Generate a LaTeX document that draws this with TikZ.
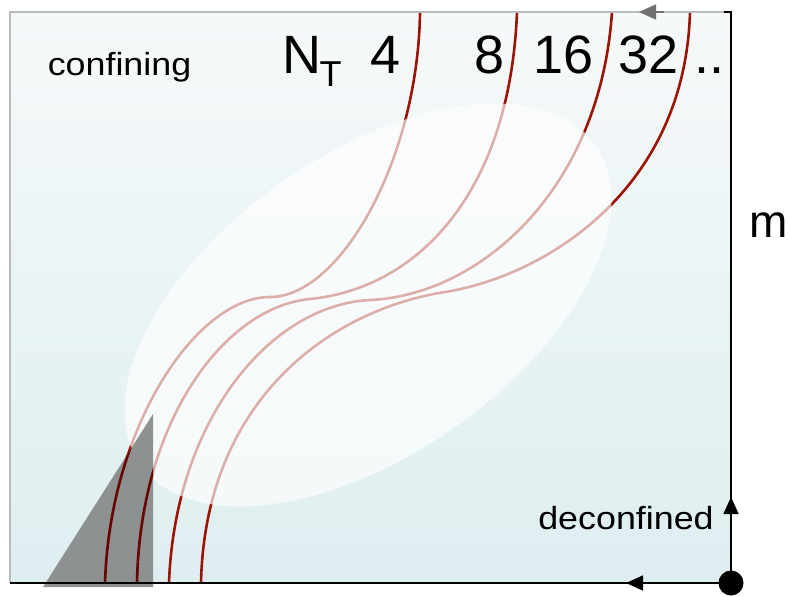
\documentclass[tikz,border=0pt]{standalone}
\usepackage{fontspec}
\setmainfont{Liberation Sans}
\newfontfamily\widefont[FakeStretch=1.12]{Liberation Sans}
\usetikzlibrary{arrows.meta}
\definecolor{curvered}{RGB}{155,20,5}
\definecolor{curvedark}{RGB}{105,5,0}
\definecolor{bgtop}{RGB}{246,249,250}
\definecolor{bgbot}{RGB}{222,238,240}
\definecolor{trigray}{RGB}{135,138,138}
\definecolor{framegray}{RGB}{185,188,188}
\def\mycurveA{(420,12) .. controls (418,160) and (340,297) .. (270,297) .. controls (197,297) and (110,425) .. (105,583)}
\def\mycurveB{(517,12) .. controls (510,190) and (420,288) .. (310,299) .. controls (225,307) and (140,420) .. (137,583)}
\def\mycurveC{(612,12) .. controls (600,190) and (480,295) .. (370,300) .. controls (270,305) and (175,420) .. (169,583)}
\def\mycurveD{(690,12) .. controls (685,190) and (545,276) .. (445,292) .. controls (330,310) and (205,400) .. (201,583)}
\begin{document}
\begin{tikzpicture}[x=1pt,y=-1pt,
  curve/.style={line width=2.6pt, draw=curvered},
  lbl/.style={inner sep=0pt, anchor=base, font=\fontsize{54}{60}\selectfont},
  word/.style={inner sep=0pt, anchor=base, font=\widefont\fontsize{32}{38}\selectfont},
  tipb/.style={-{Triangle[length=17pt,width=15pt]}}
]
\useasboundingbox (0,0) rectangle (790,597);
% background
\shade[top color=bgtop, bottom color=bgbot] (10,12) rectangle (731,583);
% curves
\draw[curve] \mycurveA;
\draw[curve] \mycurveB;
\draw[curve] \mycurveC;
\draw[curve] \mycurveD;
% white ellipse
\fill[white, opacity=0.66, rotate around={35:(368,305)}] (368,305) ellipse [x radius=278, y radius=150];
% grey triangle
\fill[trigray, opacity=0.93] (43,587) -- (153,587) -- (153,414) -- cycle;
\begin{scope}
  \clip (43,587) -- (153,587) -- (153,414) -- cycle;
  \draw[curve, draw=curvedark] \mycurveA;
  \draw[curve, draw=curvedark] \mycurveB;
\end{scope}
% frame
\coordinate (TL) at (10,12);
\coordinate (TR) at (731,12);
\coordinate (BL) at (10,583);
\coordinate (BR) at (731,583);
\coordinate (upA) at (731,520);
\coordinate (upB) at (731,497);
\coordinate (lfA) at (652,583);
\coordinate (lfB) at (626,583);
\coordinate (tpA) at (664,12);
\coordinate (tpB) at (639,12);
\draw[framegray, line width=2pt] (TR) -- (TL) -- (BL);
\draw[black, line width=2pt] (BL) -- (BR);
\draw[black, line width=1.6pt] (BR) -- (TR) -- ++(-7,0);
\draw[tipb, line width=1.6pt] (upA) -- (upB);
\draw[tipb, line width=1.6pt] (lfA) -- (lfB);
\draw[tipb, framegray!60!black, line width=1.6pt] (tpA) -- (tpB);
\fill (BR) circle (12.5);
% labels
\node[word] (conf) at (119.5,75) {confining};
\node[word] (deconf) at (626,529) {deconfined};
\node[inner sep=0pt, anchor=base, font=\fontsize{46}{50}\selectfont] (m) at (769,237) {m};
\node[lbl] (nN) at (302,73) {N};
\node[inner sep=0pt, anchor=base, font=\fontsize{36}{40}\selectfont] (nT) at (330.5,86) {T};
\node[lbl] (n4) at (386,73) {4};
\node[lbl] (n8) at (489.5,73) {8};
\node[lbl] (n16) at (563.5,73) {16};
\node[lbl] (n32) at (649,73) {32};
\node[lbl] (ndots) at (709,73) {..};
\end{tikzpicture}
\end{document}
